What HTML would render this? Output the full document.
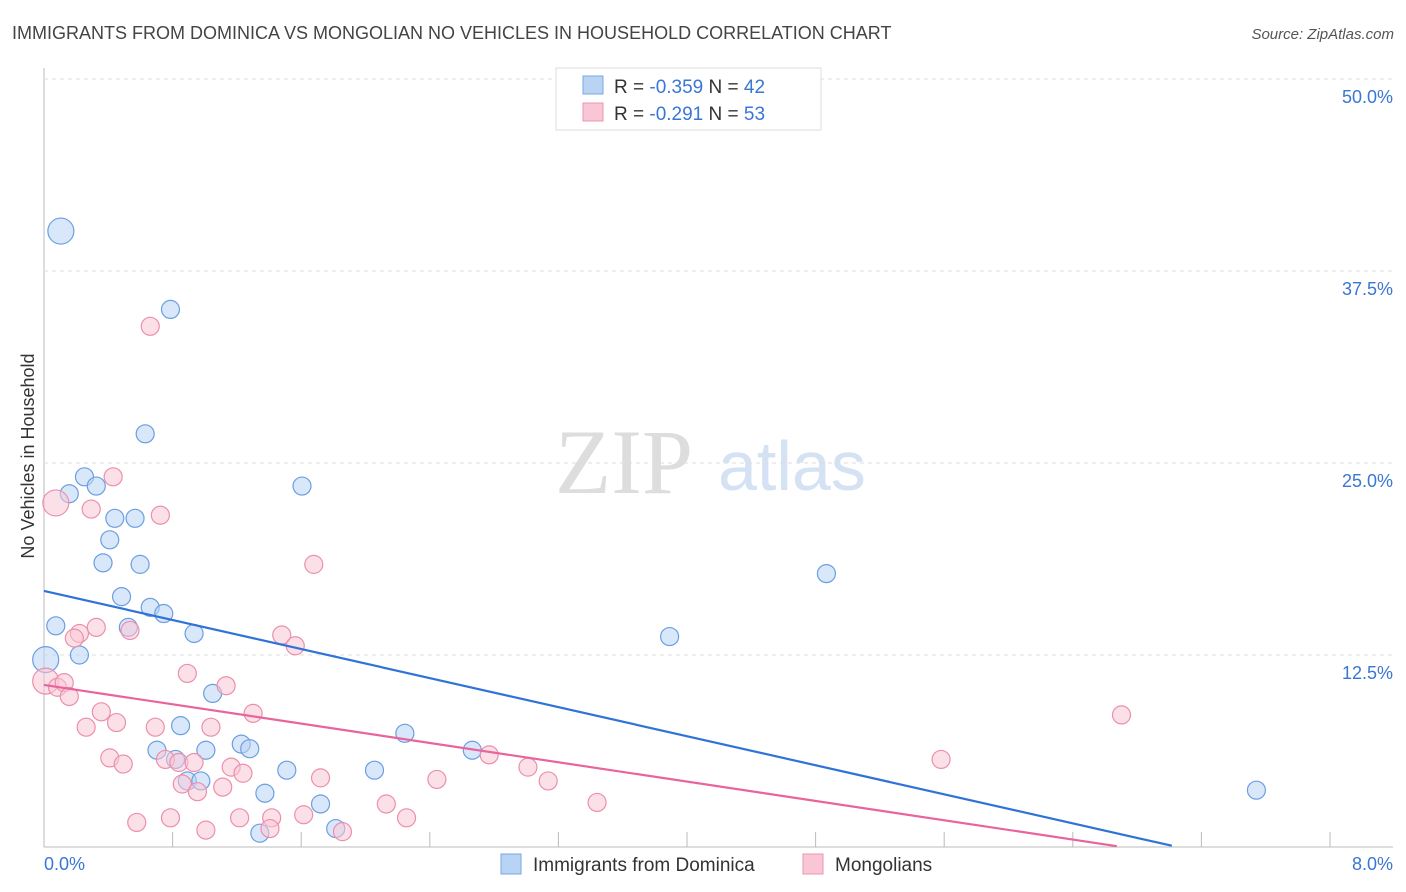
<!DOCTYPE html>
<html><head><meta charset="utf-8"><style>
body{margin:0;background:#fff;font-family:"Liberation Sans",sans-serif;}
svg{display:block}
</style></head><body>
<svg id="c" width="1406" height="892">
<text x="12" y="39" font-size="18" fill="#444">IMMIGRANTS FROM DOMINICA VS MONGOLIAN NO VEHICLES IN HOUSEHOLD CORRELATION CHART</text>
<text x="1394" y="39" font-size="15" fill="#555" font-style="italic" text-anchor="end">Source: ZipAtlas.com</text>
<text x="34" y="456" font-size="18" fill="#333" text-anchor="middle" transform="rotate(-90 34 456)">No Vehicles in Household</text>
<text x="555" y="493" font-size="92" fill="#ddd" font-family="Liberation Serif,serif">ZIP</text>
<text x="718" y="490" font-size="70" fill="#d4e2f3">atlas</text>
<g id="grid"></g><g id="marks"></g>
<g>
<rect x="556" y="68" width="265" height="62" fill="#fff" stroke="#ddd"/>
<rect x="583" y="76" width="20" height="18" fill="#b9d3f5" stroke="#7aa7e0"/>
<text x="614" y="93" font-size="19" fill="#333">R = <tspan fill="#3a76d4">-0.359</tspan>   N = <tspan fill="#3a76d4">42</tspan></text>
<rect x="583" y="103" width="20" height="18" fill="#f9c6d5" stroke="#ef95b0"/>
<text x="614" y="120" font-size="19" fill="#333">R =  <tspan fill="#3a76d4">-0.291</tspan>   N = <tspan fill="#3a76d4">53</tspan></text>
</g>
<g>
<rect x="501" y="854" width="20" height="20" fill="#b9d3f5" stroke="#7aa7e0"/>
<text x="533" y="871" font-size="19" fill="#333">Immigrants from Dominica</text>
<rect x="803" y="854" width="20" height="20" fill="#f9c6d5" stroke="#ef95b0"/>
<text x="835" y="871" font-size="19" fill="#333">Mongolians</text>
</g>
</svg>
<script>
const xTicks=[0,8];
const yTicks=[12.5,25,37.5,50];
const blueX=[0.1,0.75,0.6,0.24,0.31,0.15,0.42,0.54,0.39,0.35,0.57,0.46,0.63,0.71,0.5,0.89,0.07,0.21,0.01,1.0,0.81,0.67,0.78,0.96,1.17,1.22,0.85,0.93,1.31,1.44,1.64,1.73,1.28,1.96,2.14,2.54,1.53,4.64,3.71,7.19];
const blueY=[40.1,35.0,26.9,24.1,23.5,23.0,21.4,21.4,20.0,18.5,18.4,16.3,15.6,15.2,14.3,13.9,14.4,12.5,12.2,10.0,7.9,6.3,5.7,6.3,6.7,6.4,4.3,4.3,3.5,5.0,2.8,1.2,0.9,5.0,7.4,6.3,23.5,17.8,13.7,3.7];
const pinkX=[0.63,0.41,0.07,0.28,0.69,1.41,1.6,0.31,0.51,0.21,0.18,1.49,0.85,0.01,0.08,0.12,0.15,1.08,0.34,1.24,0.43,0.25,0.66,0.99,0.39,0.47,0.72,0.8,0.89,1.11,1.18,0.82,0.91,1.06,1.64,2.33,2.64,2.87,2.99,2.03,2.15,3.28,5.32,6.39,0.55,0.75,0.96,1.16,1.35,1.34,1.54,1.77];
const pinkY=[33.9,24.1,22.4,22.0,21.6,13.8,18.4,14.3,14.1,13.9,13.6,13.1,11.3,10.8,10.4,10.7,9.8,10.5,8.8,8.7,8.1,7.8,7.8,7.8,5.8,5.4,5.7,5.5,5.5,5.2,4.8,4.1,3.6,3.9,4.5,4.4,6.0,5.2,4.3,2.8,1.9,2.9,5.7,8.6,1.6,1.9,1.1,1.9,1.9,1.2,2.1,1.0];
const blueTrend=[16.67,-2.48];
const pinkTrend=[10.55,-1.65];
const sx=v=>44+v/8*1349, sy=v=>847-v*15.36;
const NS="http://www.w3.org/2000/svg";
const g=document.getElementById('grid'), m=document.getElementById('marks');
function mk(p,t,a){const e=document.createElementNS(NS,t);for(const k in a)e.setAttribute(k,a[k]);p.appendChild(e);return e;}
let ax=mk(g,'line',{x1:44,y1:68,x2:44,y2:847,stroke:'#bbb'});


let bx=mk(g,'line',{x1:44,y1:847,x2:1393,y2:847,stroke:'#bbb'});


for(let i=1;i<=10;i++){let t=mk(g,'line',{x1:44+i*128.6,y1:832,x2:44+i*128.6,y2:847,stroke:'#bbb'});

}
yTicks.forEach(v=>{let l=mk(g,'line',{x1:44,y1:sy(v),x2:1393,y2:sy(v),stroke:'#ddd','stroke-dasharray':'4,4'});


let t=mk(g,'text',{x:1393,y:sy(v)+24,'font-size':18,fill:'#3a76d4','text-anchor':'end'});t.textContent=v.toFixed(1)+'%';

});
xTicks.forEach((v,i)=>{let t=mk(g,'text',{x:i?1393:44,y:870,'font-size':18,fill:'#3a76d4','text-anchor':i?'end':'start'});t.textContent=v.toFixed(1)+'%';

});
function pts(X,Y,f,s,n){X.forEach((x,i)=>{const big=(x<0.12&&(Y[i]>22||Math.abs(Y[i]-12)<1.5||Math.abs(Y[i]-10.8)<0.3));let c=mk(m,'circle',{cx:sx(x),cy:sy(Y[i]),r:big?13:9,fill:f,'fill-opacity':0.55,stroke:s,'stroke-width':1.2});

});}
pts(blueX,blueY,'#b9d3f5','#6b9fe0','dominica-point');
pts(pinkX,pinkY,'#f9c6d5','#ec8fac','mongolian-point');
function trend(t,c,n){const x2=-t[0]/t[1]*0.995;let l=mk(m,'line',{x1:sx(0),y1:sy(t[0]),x2:sx(x2),y2:sy(t[0]+t[1]*x2),stroke:c,'stroke-width':2.2});

}
trend(blueTrend,'#2f73d8','dominica-trendline');
trend(pinkTrend,'#e8649a','mongolian-trendline');
</script>
</body></html>
